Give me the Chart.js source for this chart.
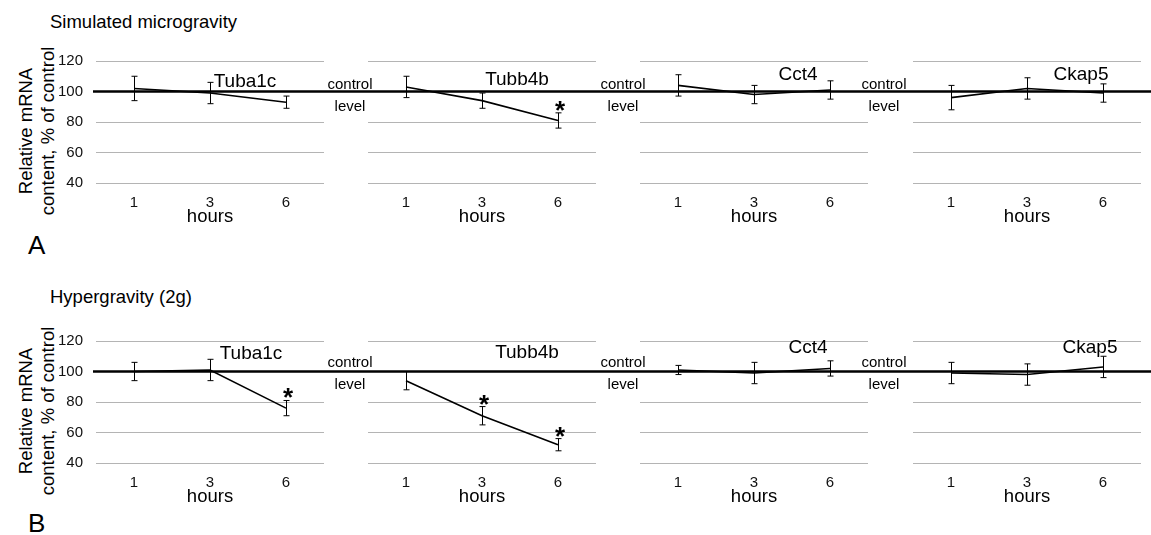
<!DOCTYPE html>
<html>
<head>
<meta charset="utf-8">
<script src="https://cdn.jsdelivr.net/npm/chart.js@4.4.1/dist/chart.umd.min.js"></script>
<style>
  body { margin: 0; background: #fff; }
  #wrap { position: relative; width: 1151px; height: 535px; overflow: hidden;
          font-family: "Liberation Sans", Arial, sans-serif; color: #000; }
  #wrap canvas { position: absolute; }
  .lbl { position: absolute; transform: translate(-50%, -50%); white-space: nowrap; line-height: 1; }
  .head { position: absolute; transform: translateY(-50%); white-space: nowrap; line-height: 1; font-size: 18.5px; }
  .letter { position: absolute; transform: translateY(-50%); line-height: 1; font-size: 26px; }
  .ytitle { position: absolute; transform: translate(-50%, -50%) rotate(-90deg); white-space: nowrap;
            text-align: center; font-size: 18.5px; line-height: 22px; }
  .gene { font-size: 19px; }
  .ctl { font-size: 15px; }
</style>
</head>
<body>
<div id="wrap"></div>
<script>
// values (% of control, mean and error)
var hours = ['1', '3', '6'];
var genes = ['Tuba1c', 'Tubb4b', 'Cct4', 'Ckap5'];
var yTicks = [40, 60, 80, 100, 120];
var controlLevel = 100;

var microMean = [[102, 99, 93], [103, 94, 81], [104, 98, 101], [96, 102, 99]];
var microErr  = [[8, 7, 4], [7, 5, 5], [7, 6, 6], [8, 7, 6]];
var microSig  = [[0, 0, 0], [0, 0, 1], [0, 0, 0], [0, 0, 0]];

var hyperMean = [[100, 101, 76], [94, 71, 52], [101, 99, 102], [99, 98, 103]];
var hyperErr  = [[6, 7, 5], [6, 6, 4], [3, 7, 5], [7, 7, 7]];
var hyperSig  = [[0, 0, 1], [0, 1, 1], [0, 0, 0], [0, 0, 0]];

var FONT = '"Liberation Sans", Arial, sans-serif';
var wrap = document.getElementById('wrap');

// layout
var panelLefts = [96, 368, 640, 913];
var panelW = 228;
var rows = [
  { top: 50, title: 'Simulated microgravity', titleY: 22, letter: 'A', letterY: 245,
    mean: microMean, err: microErr, sig: microSig,
    genePos: [[245, 80], [517, 78], [798, 73], [1081, 73]], ctlY: 83 },
  { top: 330, title: 'Hypergravity (2g)', titleY: 297, letter: 'B', letterY: 523,
    mean: hyperMean, err: hyperErr, sig: hyperSig,
    genePos: [[251, 352], [527, 351], [808, 346], [1090, 346]], ctlY: 361 }
];
var gapLabelX = [350, 623, 884];

function addText(cls, text, x, y) {
  var d = document.createElement('div');
  d.className = cls;
  d.innerHTML = text;
  d.style.left = x + 'px';
  d.style.top = y + 'px';
  wrap.appendChild(d);
}

function barsPlugin(mean, err, sig, first) {
  return {
    id: 'errorBars',
    beforeDatasetsDraw: function(chart) {
      var ctx = chart.ctx;
      var y = chart.scales.y.getPixelForValue(controlLevel);
      ctx.save();
      ctx.strokeStyle = '#000';
      ctx.lineWidth = 2.5;
      ctx.beginPath();
      ctx.moveTo(first ? chart.chartArea.left - 3 : 0, y);
      ctx.lineTo(chart.width, y);
      ctx.stroke();
      ctx.restore();
    },
    afterDatasetsDraw: function(chart) {
      var ctx = chart.ctx, ys = chart.scales.y;
      ctx.save();
      ctx.strokeStyle = '#000';
      ctx.fillStyle = '#000';
      ctx.lineWidth = 1;
      chart.getDatasetMeta(0).data.forEach(function(pt, i) {
        var top = ys.getPixelForValue(mean[i] + err[i]);
        var bot = ys.getPixelForValue(mean[i] - err[i]);
        var x = Math.round(pt.x) + 0.5;
        ctx.beginPath();
        ctx.moveTo(x, top); ctx.lineTo(x, bot);
        ctx.moveTo(x - 3, top); ctx.lineTo(x + 3, top);
        ctx.moveTo(x - 3, bot); ctx.lineTo(x + 3, bot);
        ctx.stroke();
        if (sig[i]) {
          ctx.font = 'bold 26px ' + FONT;
          ctx.textAlign = 'center';
          ctx.textBaseline = 'alphabetic';
          ctx.fillText('*', pt.x + 2, top + 6);
        }
      });
      ctx.restore();
    }
  };
}

rows.forEach(function(row) {
  addText('head', row.title, 50, row.titleY);
  addText('letter', row.letter, 28, row.letterY);
  addText('ytitle', 'Relative mRNA<br>content, % of control', 37, row.top + 81);

  genes.forEach(function(g, i) {
    var first = i === 0;
    var left = first ? 0 : panelLefts[i];
    var right = i < 3 ? panelLefts[i + 1] : 1151;
    var canvas = document.createElement('canvas');
    canvas.width = right - left;
    canvas.height = 178;
    canvas.style.left = left + 'px';
    canvas.style.top = row.top + 'px';
    wrap.appendChild(canvas);

    new Chart(canvas.getContext('2d'), {
      type: 'line',
      data: {
        labels: hours,
        datasets: [{
          data: row.mean[i],
          borderColor: '#000',
          borderWidth: 1.6,
          pointRadius: 0,
          tension: 0,
          fill: false
        }]
      },
      options: {
        responsive: false,
        animation: false,
        devicePixelRatio: 1,
        layout: { padding: { top: 11, right: right - (panelLefts[i] + panelW), left: 0, bottom: 0 } },
        plugins: { legend: { display: false }, tooltip: { enabled: false } },
        scales: {
          x: {
            offset: true,
            grid: { display: false, drawTicks: false },
            border: { display: false },
            ticks: { color: '#111', font: { family: FONT, size: 15 }, padding: 11 },
            title: { display: true, text: 'hours', color: '#000',
                     font: { family: FONT, size: 18.5 }, padding: { top: 0, bottom: 0 } },
            afterFit: function(s) { s.height = 45; s.paddingLeft = 0; s.paddingRight = 0; }
          },
          y: {
            min: yTicks[0],
            max: yTicks[yTicks.length - 1],
            grid: { color: '#b4b4b4', lineWidth: 1, drawTicks: false },
            border: { display: false },
            ticks: { display: first, stepSize: yTicks[1] - yTicks[0], color: '#111',
                     font: { family: FONT, size: 15 }, padding: 13 },
            afterFit: function(s) {
              s.width = first ? panelLefts[0] : 0;
              s.paddingTop = 0;
              s.paddingBottom = 0;
            }
          }
        }
      },
      plugins: [barsPlugin(row.mean[i], row.err[i], row.sig[i], first)]
    });

    addText('lbl gene', g, row.genePos[i][0], row.genePos[i][1]);
    if (i < 3) {
      addText('lbl ctl', 'control', gapLabelX[i], row.ctlY);
      addText('lbl ctl', 'level', gapLabelX[i], row.ctlY + 22);
    }
  });
});
</script>
</body>
</html>
